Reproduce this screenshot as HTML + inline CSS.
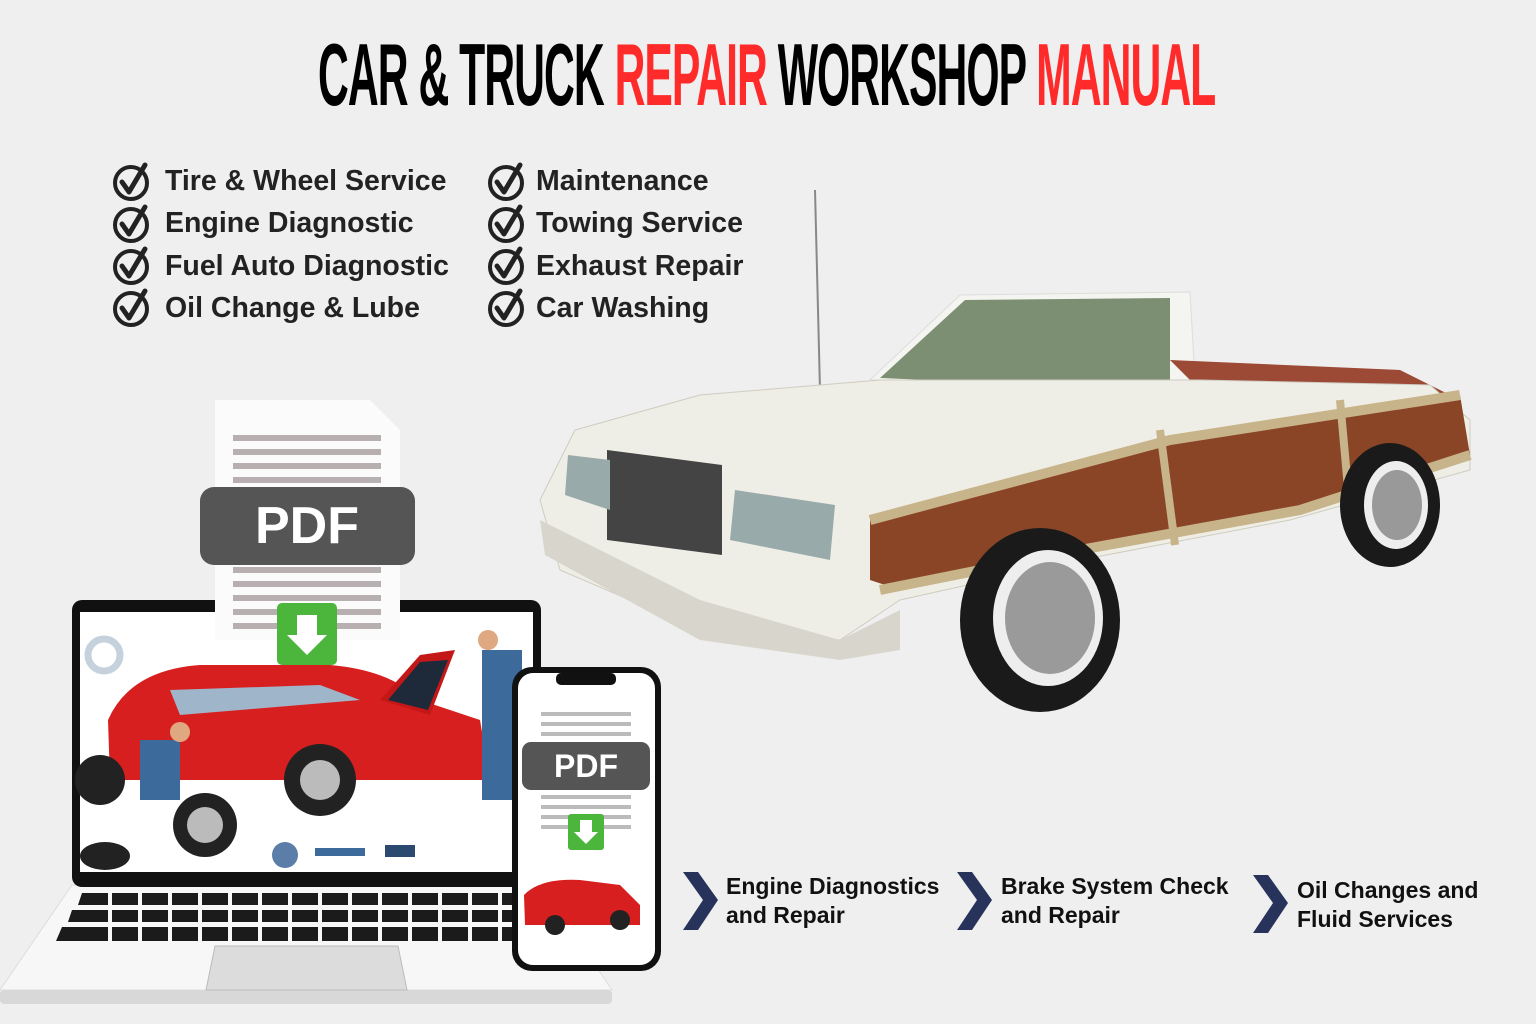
<!DOCTYPE html>
<html><head><meta charset="utf-8"><style>
body{margin:0;width:1536px;height:1024px;background:#efefef;overflow:hidden;font-family:"Liberation Sans",sans-serif}
.t{position:absolute;left:318px;top:24px;font-weight:bold;font-size:88px;letter-spacing:-2px;white-space:nowrap;transform:scaleX(0.485);transform-origin:left top;font-family:"Liberation Sans Narrow","Liberation Sans",sans-serif}
.r{color:#ff2b2b}
.li{position:absolute;font-weight:bold;font-size:28.5px;color:#222;white-space:nowrap}
.b{position:absolute;font-weight:bold;font-size:23px;color:#111;line-height:29px;white-space:nowrap}
</style></head><body>
<div class="t">CAR &amp; TRUCK <span class="r">REPAIR</span> WORKSHOP <span class="r">MANUAL</span></div>

<svg width="1536" height="1024" style="position:absolute;left:0;top:0">
<defs><g id="ck"><circle cx="0" cy="0" r="16" fill="none" stroke="#222" stroke-width="4"/><path d="M-9,-1 L-2,9 L14,-18" fill="none" stroke="#222" stroke-width="5" stroke-linecap="round" stroke-linejoin="round"/></g></defs>
<use href="#ck" x="131" y="183"/><use href="#ck" x="131" y="225"/><use href="#ck" x="131" y="267"/><use href="#ck" x="131" y="309"/>
<use href="#ck" x="506" y="183"/><use href="#ck" x="506" y="225"/><use href="#ck" x="506" y="267"/><use href="#ck" x="506" y="309"/>

<!-- big car -->
<line x1="815" y1="190" x2="820" y2="390" stroke="#888" stroke-width="2"/>
<path d="M870,380 L960,295 L1190,292 L1195,380 Z" fill="#f4f4f0" stroke="#ddd"/>
<path d="M880,378 L965,300 L1170,298 L1170,390 Z" fill="#7c8f72"/>
<path d="M1170,360 L1400,370 L1460,400 L1200,390 Z" fill="#9c4a36"/>
<path d="M540,500 L575,430 L700,395 L880,380 L1200,380 L1430,385 L1470,420 L1470,470 L1290,520 L1080,560 L900,600 L840,640 L700,630 L560,570 Z" fill="#efeee6" stroke="#cfccc0"/>
<path d="M870,520 L1170,440 L1460,395 L1470,455 L1300,510 L1080,550 L900,590 L870,580 Z" fill="#8a4527"/>
<path d="M1160,430 L1175,545" stroke="#c8b48a" stroke-width="8"/>
<path d="M1340,400 L1350,510" stroke="#c8b48a" stroke-width="8"/>
<path d="M870,520 L1170,440 L1460,395" fill="none" stroke="#c8b48a" stroke-width="10"/>
<path d="M880,590 L1080,550 L1300,510 L1470,455" fill="none" stroke="#c8b48a" stroke-width="10"/>
<path d="M607,450 L722,465 L722,555 L607,540 Z" fill="#444"/>
<path d="M568,455 L610,460 L610,510 L565,495 Z" fill="#9aa"/>
<path d="M735,490 L835,505 L830,560 L730,540 Z" fill="#9aa"/>
<path d="M540,520 L700,600 L840,640 L900,610 L900,650 L840,660 L700,640 L545,555 Z" fill="#d8d6cc"/>
<ellipse cx="1040" cy="620" rx="80" ry="92" fill="#1a1a1a"/><ellipse cx="1048" cy="618" rx="55" ry="68" fill="#eee"/><ellipse cx="1050" cy="618" rx="45" ry="56" fill="#9a9a9a"/>
<ellipse cx="1390" cy="505" rx="50" ry="62" fill="#1a1a1a"/><ellipse cx="1396" cy="505" rx="32" ry="44" fill="#eee"/><ellipse cx="1397" cy="505" rx="25" ry="35" fill="#999"/>

<!-- laptop -->
<path d="M72,885 L541,885 L612,990 L0,990 Z" fill="#f7f7f7" stroke="#ddd"/>
<rect x="0" y="990" width="612" height="14" rx="4" fill="#d8d8d8"/>
<rect x="72" y="600" width="469" height="287" rx="10" fill="#111"/>
<rect x="80" y="612" width="453" height="260" fill="#fff"/>
<g fill="#1b1b1b">
<path d="M82,893 L530,893 L533,905 L78,905 Z"/><path d="M72,910 L538,910 L541,922 L68,922 Z"/><path d="M62,927 L545,927 L548,941 L56,941 Z"/>
</g>
<g stroke="#f7f7f7" stroke-width="4">
<path d="M110,890 V945 M140,890 V945 M170,890 V945 M200,890 V945 M230,890 V945 M260,890 V945 M290,890 V945 M320,890 V945 M350,890 V945 M380,890 V945 M410,890 V945 M440,890 V945 M470,890 V945 M500,890 V945"/>
</g>
<path d="M215,946 L398,946 L407,990 L206,990 Z" fill="#dcdcdc" stroke="#bbb"/>
<!-- screen art -->
<path d="M108,720 Q130,670 200,665 L330,665 Q390,670 420,700 L480,720 L490,780 L110,780 Z" fill="#d81f1f"/>
<path d="M170,690 L320,685 L360,700 L180,715 Z" fill="#9fb5c9"/>
<path d="M380,700 L420,655 L455,650 L430,715 Z" fill="#c41818"/><path d="M388,700 L420,662 L448,660 L428,710 Z" fill="#1e2a3a"/>
<circle cx="320" cy="780" r="36" fill="#222"/><circle cx="320" cy="780" r="20" fill="#bbb"/>
<circle cx="205" cy="825" r="32" fill="#222"/><circle cx="205" cy="825" r="18" fill="#bbb"/>
<circle cx="100" cy="780" r="25" fill="#222"/>
<rect x="140" y="740" width="40" height="60" fill="#3c6a9a"/><circle cx="180" cy="732" r="10" fill="#e0a880"/>
<rect x="482" y="650" width="40" height="150" fill="#3c6a9a"/><circle cx="488" cy="640" r="10" fill="#e0a880"/>
<circle cx="285" cy="855" r="13" fill="#5a7ea8"/><rect x="315" y="848" width="50" height="8" fill="#3c6a9a"/><rect x="385" y="845" width="30" height="12" fill="#2c4a70"/>
<circle cx="104" cy="655" r="16" fill="none" stroke="#c5d2de" stroke-width="7"/>
<ellipse cx="105" cy="856" rx="25" ry="14" fill="#222"/>

<!-- PDF doc -->
<path d="M215,400 L370,400 L400,430 L400,640 L215,640 Z" fill="#fbfbfb"/>
<g fill="#b8b0b0"><rect x="233" y="435" width="148" height="6"/><rect x="233" y="449" width="148" height="6"/><rect x="233" y="463" width="148" height="6"/><rect x="233" y="477" width="148" height="6"/>
<rect x="233" y="567" width="148" height="6"/><rect x="233" y="581" width="148" height="6"/><rect x="233" y="595" width="148" height="6"/><rect x="233" y="609" width="148" height="6"/><rect x="233" y="623" width="148" height="6"/></g>
<rect x="200" y="487" width="215" height="78" rx="14" fill="#555"/>
<text x="307" y="543" text-anchor="middle" font-family="Liberation Sans" font-weight="bold" font-size="52" fill="#fff">PDF</text>
<rect x="277" y="603" width="60" height="62" rx="5" fill="#4bb53c"/>
<path d="M297,615 h20 v20 h10 l-20,20 l-20,-20 h10 Z" fill="#fff"/>

<!-- phone -->
<rect x="512" y="667" width="149" height="304" rx="20" fill="#111"/>
<rect x="518" y="673" width="137" height="292" rx="15" fill="#fff"/>
<rect x="556" y="673" width="60" height="12" rx="5" fill="#111"/>
<g fill="#bbb"><rect x="541" y="712" width="90" height="4"/><rect x="541" y="722" width="90" height="4"/><rect x="541" y="732" width="90" height="4"/><rect x="541" y="795" width="90" height="4"/><rect x="541" y="805" width="90" height="4"/><rect x="541" y="815" width="90" height="4"/><rect x="541" y="825" width="90" height="4"/></g>
<rect x="522" y="742" width="128" height="48" rx="9" fill="#555"/>
<text x="586" y="777" text-anchor="middle" font-family="Liberation Sans" font-weight="bold" font-size="32" fill="#fff">PDF</text>
<rect x="568" y="814" width="36" height="36" rx="3" fill="#4bb53c"/>
<path d="M580,820 h12 v12 h6 l-12,12 l-12,-12 h6 Z" fill="#fff"/>
<path d="M524,895 Q540,878 580,880 L620,885 L640,905 L640,925 L525,925 Z" fill="#d81f1f"/>
<circle cx="555" cy="925" r="10" fill="#222"/><circle cx="620" cy="920" r="10" fill="#222"/>

<!-- chevrons -->
<g fill="#27335a">
<path d="M683,872 L698,872 L718,900 L698,930 L683,930 L703,900 Z"/>
<path d="M957,872 L972,872 L992,900 L972,930 L957,930 L977,900 Z"/>
<path d="M1253,875 L1268,875 L1288,903 L1268,933 L1253,933 L1273,903 Z"/>
</g>
</svg>

<div class="li" style="left:165px;top:165px">Tire &amp; Wheel Service</div>
<div class="li" style="left:165px;top:207px">Engine Diagnostic</div>
<div class="li" style="left:165px;top:250px">Fuel Auto Diagnostic</div>
<div class="li" style="left:165px;top:292px">Oil Change &amp; Lube</div>
<div class="li" style="left:536px;top:165px">Maintenance</div>
<div class="li" style="left:536px;top:207px">Towing Service</div>
<div class="li" style="left:536px;top:250px">Exhaust Repair</div>
<div class="li" style="left:536px;top:292px">Car Washing</div>

<div class="b" style="left:726px;top:872px">Engine Diagnostics<br>and Repair</div>
<div class="b" style="left:1001px;top:872px">Brake System Check<br>and Repair</div>
<div class="b" style="left:1297px;top:876px">Oil Changes and<br>Fluid Services</div>
</body></html>
